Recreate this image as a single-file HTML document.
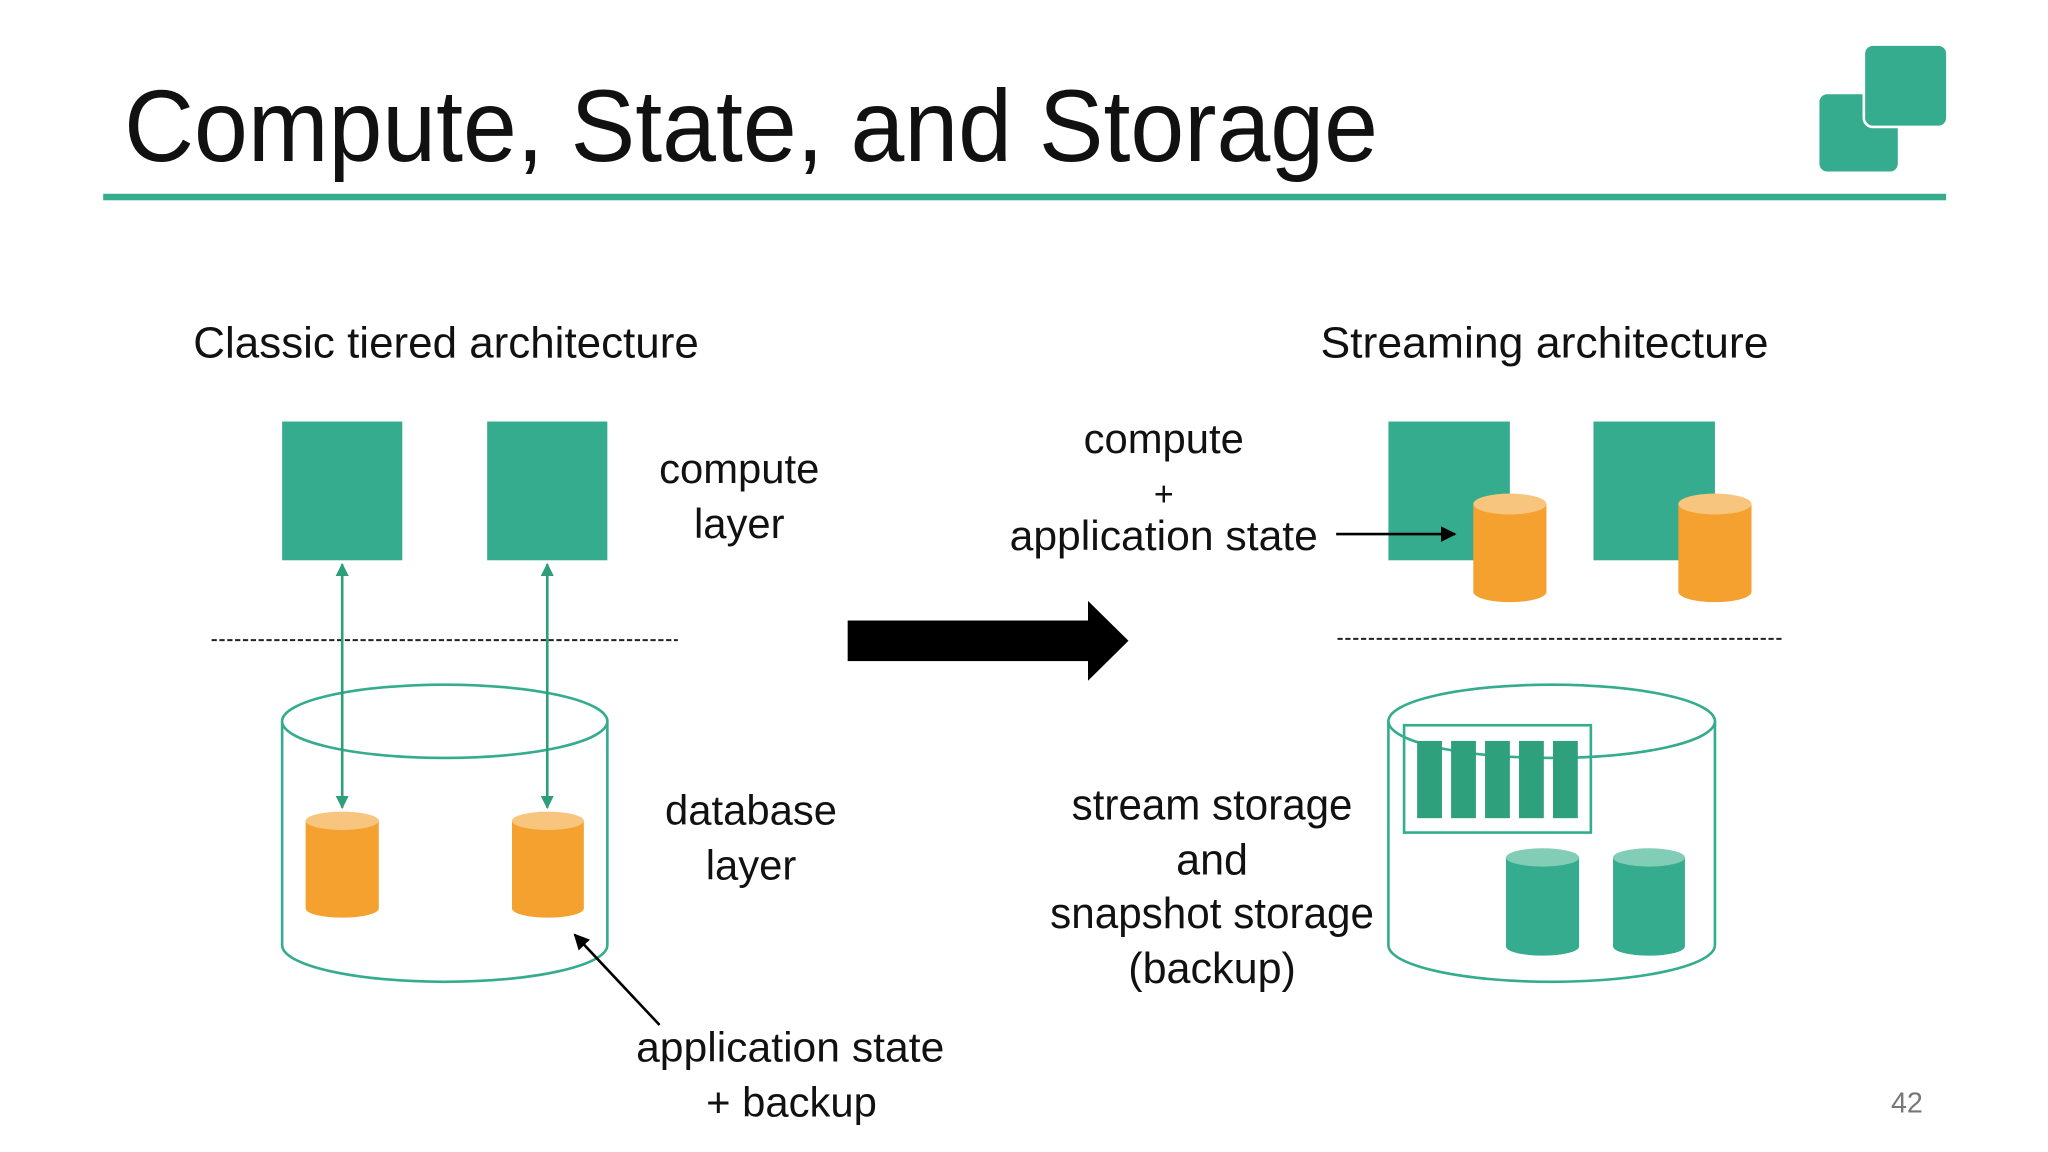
<!DOCTYPE html>
<html><head><meta charset="utf-8"><style>
html,body{margin:0;padding:0;background:#fff;}
svg{display:block;}
text{font-family:"Liberation Sans",sans-serif;fill:#111;}
</style></head><body>
<svg width="2048" height="1152" viewBox="0 0 1568 880" preserveAspectRatio="none" xmlns="http://www.w3.org/2000/svg">
<defs>
<marker id="ga" viewBox="0 0 10 10" refX="9" refY="5" markerWidth="5" markerHeight="5" orient="auto-start-reverse"><path d="M0,0 L10,5 L0,10 z" fill="#2e9e7a"/></marker>
<marker id="ba" viewBox="0 0 10 10" refX="9" refY="5" markerWidth="6" markerHeight="6" orient="auto"><path d="M0,0 L10,5 L0,10 z" fill="#000"/></marker>
</defs>
<rect width="1568" height="880" fill="#fff"/>
<text x="95" y="123" font-size="78" textLength="960" lengthAdjust="spacingAndGlyphs">Compute, State, and Storage</text>
<rect x="79" y="148" width="1411" height="5" fill="#35ac8e"/>
<rect x="1393" y="72" width="60" height="59" rx="6" fill="#35ac8e"/>
<rect x="1427" y="34" width="64" height="63" rx="7" fill="#35ac8e" stroke="#fff" stroke-width="2"/>
<text x="148" y="273" font-size="33" textLength="387" lengthAdjust="spacingAndGlyphs">Classic tiered architecture</text>
<text x="1011" y="273" font-size="33" textLength="343" lengthAdjust="spacingAndGlyphs">Streaming architecture</text>

<!-- left -->
<rect x="216" y="322" width="92" height="106" fill="#35ac8e"/>
<rect x="373" y="322" width="92" height="106" fill="#35ac8e"/>
<text x="566" y="369" font-size="32" text-anchor="middle">compute</text>
<text x="566" y="411" font-size="32" text-anchor="middle">layer</text>
<line x1="162" y1="489" x2="519" y2="489" stroke="#222" stroke-width="1.5" stroke-dasharray="4 2"/>
<g fill="none" stroke="#35ac8e" stroke-width="2">
<ellipse cx="340.5" cy="551" rx="124.5" ry="28"/>
<path d="M216,551 V722 A124.5,28 0 0 0 465,722 V551"/>
</g>
<line x1="262" y1="431" x2="262" y2="617" stroke="#2e9e7a" stroke-width="2" marker-start="url(#ga)" marker-end="url(#ga)"/>
<line x1="419" y1="431" x2="419" y2="617" stroke="#2e9e7a" stroke-width="2" marker-start="url(#ga)" marker-end="url(#ga)"/>
<g>
<path d="M234,627 V694 A28,7 0 0 0 290,694 V627 z" fill="#f4a12f"/>
<ellipse cx="262" cy="627" rx="28" ry="7" fill="#f8c57f"/>
<path d="M392,627 V694 A27.5,7 0 0 0 447,694 V627 z" fill="#f4a12f"/>
<ellipse cx="419.5" cy="627" rx="27.5" ry="7" fill="#f8c57f"/>
</g>
<text x="575" y="630" font-size="32" text-anchor="middle">database</text>
<text x="575" y="672" font-size="32" text-anchor="middle">layer</text>
<line x1="505" y1="783" x2="440" y2="714" stroke="#000" stroke-width="2" marker-end="url(#ba)"/>
<text x="605" y="811" font-size="32" text-anchor="middle" textLength="236" lengthAdjust="spacingAndGlyphs">application state</text>
<text x="606" y="853" font-size="32" text-anchor="middle">+ backup</text>

<!-- big arrow -->
<rect x="649" y="474" width="185" height="31" fill="#000"/>
<path d="M833,459 L864,489.5 L833,520 z" fill="#000"/>

<!-- right -->
<text x="891" y="346" font-size="32" text-anchor="middle">compute</text>
<text x="891" y="386" font-size="26" text-anchor="middle">+</text>
<text x="891" y="420" font-size="32" text-anchor="middle" textLength="236" lengthAdjust="spacingAndGlyphs">application state</text>
<rect x="1063" y="322" width="93" height="106" fill="#35ac8e"/>
<rect x="1220" y="322" width="93" height="106" fill="#35ac8e"/>
<path d="M1128,385 V452 A28,8 0 0 0 1184,452 V385 z" fill="#f4a12f"/>
<ellipse cx="1156" cy="385" rx="28" ry="8" fill="#f8c57f"/>
<path d="M1285,385 V452 A28,8 0 0 0 1341,452 V385 z" fill="#f4a12f"/>
<ellipse cx="1313" cy="385" rx="28" ry="8" fill="#f8c57f"/>
<line x1="1023" y1="408" x2="1114" y2="408" stroke="#000" stroke-width="2" marker-end="url(#ba)"/>
<line x1="1024" y1="488" x2="1365" y2="488" stroke="#222" stroke-width="1.5" stroke-dasharray="4 2"/>
<g fill="none" stroke="#35ac8e" stroke-width="2">
<ellipse cx="1188" cy="551" rx="125" ry="28"/>
<path d="M1063,551 V722 A125,28 0 0 0 1313,722 V551"/>
<rect x="1075" y="554" width="143" height="82"/>
</g>
<g fill="#2ea07c">
<rect x="1085" y="566" width="19" height="59"/>
<rect x="1111" y="566" width="19" height="59"/>
<rect x="1137" y="566" width="19" height="59"/>
<rect x="1163" y="566" width="19" height="59"/>
<rect x="1189" y="566" width="19" height="59"/>
</g>
<path d="M1153,655 V723 A28,7 0 0 0 1209,723 V655 z" fill="#35ac8e"/>
<ellipse cx="1181" cy="655" rx="28" ry="7" fill="#82cdb5"/>
<path d="M1235,655 V723 A27.5,7 0 0 0 1290,723 V655 z" fill="#35ac8e"/>
<ellipse cx="1262.5" cy="655" rx="27.5" ry="7" fill="#82cdb5"/>
<text x="928" y="626" font-size="33" text-anchor="middle" textLength="215" lengthAdjust="spacingAndGlyphs">stream storage</text>
<text x="928" y="668" font-size="33" text-anchor="middle">and</text>
<text x="928" y="709" font-size="33" text-anchor="middle" textLength="248" lengthAdjust="spacingAndGlyphs">snapshot storage</text>
<text x="928" y="751" font-size="33" text-anchor="middle">(backup)</text>
<text x="1460" y="850" font-size="22" text-anchor="middle" style="fill:#777">42</text>
</svg>
</body></html>
